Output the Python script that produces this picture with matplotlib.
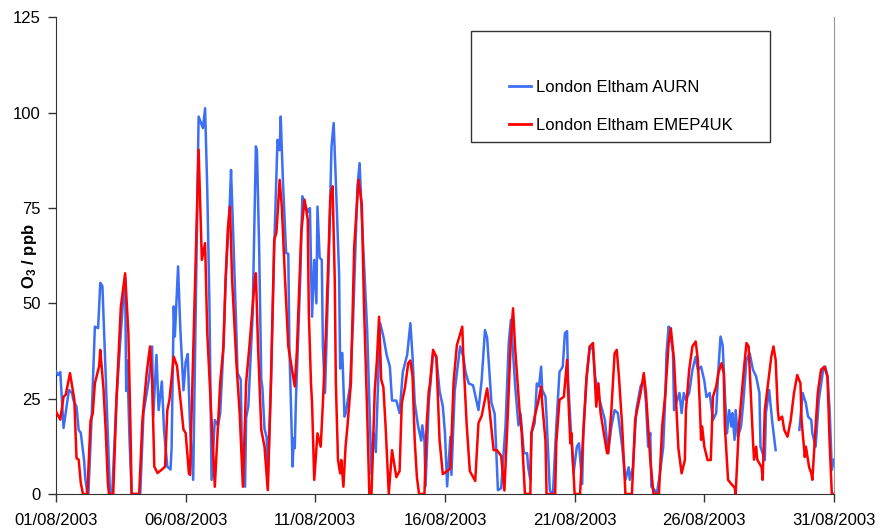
import numpy as np
import pandas as pd
import matplotlib
matplotlib.use("Agg")
import matplotlib.pyplot as plt
import matplotlib.dates as mdates
from matplotlib.patches import Rectangle

plt.rcParams['font.family'] = ['Liberation Sans', 'DejaVu Sans']
plt.rcParams['font.size'] = 12
plt.rcParams['mathtext.fontset'] = 'custom'
plt.rcParams['mathtext.bf'] = 'Liberation Sans:bold'

start = pd.Timestamp('2003-08-01')

# hourly O3 (ppb), key hours since 01/08/2003 00:00
aurn_hours = [0, 2, 4, 7, 12, 15, 16, 19, 21, 23, 26, 27, 29, 30, 33, 36, 39, 41, 43, 46,
              48, 50, 52, 56, 60, 63, 64, 65, 66, 68, 70, 78, 81, 86, 89, 90, 93, 95, 98, 100,
              103, 106, 107, 109, 110, 113, 115, 118, 120, 122, 124, 127, 132, 136, 138, 140, 142, 144, 147, 150,
              152, 155, 157, 161, 162, 164, 167, 168, 171, 172, 175, 176, 178, 179, 182, 185, 186, 188, 190, 191,
              193, 195, 196, 199, 202, 205, 207, 208, 210, 213, 215, 216, 218, 219, 220, 221, 222, 226, 228, 233,
              235, 237, 239, 241, 242, 244, 246, 247, 249, 252, 255, 257, 259, 262, 263, 265, 267, 268, 272, 275,
              279, 281, 283, 288, 292, 294, 296, 297, 300, 303, 306, 309, 311, 315, 318, 321, 325, 328, 330, 332,
              335, 338, 339, 341, 342, 345, 349, 352, 355, 358, 360, 362, 365, 366, 369, 374, 377, 379, 382, 386,
              391, 394, 397, 399, 403, 406, 409, 412, 416, 419, 421, 425, 428, 430, 433, 436, 437, 439, 440, 443,
              445, 447, 449, 450, 453, 454, 457, 459, 460, 463, 466, 469, 471, 473, 474, 476, 479, 482, 484, 487,
              488, 491, 494, 497, 499, 503, 508, 511, 514, 517, 520, 524, 527, 530, 531, 534, 537, 541, 544, 546,
              548, 550, 551, 554, 556, 559, 562, 564, 565, 567, 568, 571, 572, 575, 577, 579, 581, 583, 586, 589,
              592, 594, 597, 600, 602, 605, 608, 611, 613, 615, 617, 619, 621, 623, 625, 626, 628, 629, 631, 634,
              636, 639, 642, 645, 648, 651, 652, 656, 657, 660, 663, 666, 677, 688, 691, 694, 696, 699, 700, 703,
              706, 710, 712, 714, 716, 718, 720]
aurn_o3 = [32.1, 31.2, 32.0, 17.3, 27.3, 26.4, 24.7, 22.9, 16.8, 16.0, 8.9, 4.5, 0.0, 0.0, 20.0, 43.9, 43.5, 55.4, 54.5, 30.8,
           15.0, 0.0, 0.0, 25.0, 42.2, 54.4, 56.5, 27.0, 35.0, 15.0, 0.0, 0.0, 21.2, 30.0, 38.7, 20.3, 36.5, 22.0, 29.5, 16.8,
           7.2, 6.4, 12.0, 49.2, 41.3, 59.7, 43.9, 27.2, 34.6, 36.7, 18.0, 3.7, 99.0, 96.0, 101.2, 80.0, 50.0, 3.7, 19.4, 18.0,
           21.2, 38.7, 56.2, 77.2, 85.0, 68.5, 42.0, 31.7, 30.0, 12.0, 1.9, 20.0, 23.0, 29.0, 47.0, 91.2, 90.0, 65.0, 30.0, 28.0,
           17.0, 15.0, 3.0, 30.0, 64.9, 92.9, 90.2, 99.0, 82.4, 63.2, 63.0, 38.7, 17.0, 7.2, 14.6, 12.0, 24.0, 56.0, 78.1, 74.0,
           75.0, 46.5, 61.4, 50.0, 75.4, 62.0, 61.4, 38.7, 26.5, 56.0, 91.2, 97.3, 82.0, 57.9, 32.9, 37.0, 20.3, 21.0, 28.0, 45.7,
           80.7, 86.8, 73.0, 43.0, 5.2, 16.0, 11.0, 20.0, 44.8, 41.3, 36.5, 33.4, 24.5, 24.5, 21.2, 32.0, 36.5, 44.8, 36.0, 24.0,
           18.0, 14.0, 18.0, 14.0, 2.0, 24.0, 36.9, 36.0, 27.0, 23.0, 16.0, 2.0, 15.0, 5.0, 27.0, 38.7, 36.0, 32.0, 29.0, 28.5,
           22.0, 30.0, 43.0, 41.0, 24.0, 21.0, 1.0, 1.5, 17.7, 39.6, 45.7, 28.2, 18.0, 21.0, 10.7, 10.7, 7.0, 3.7, 15.9, 18.6,
           29.0, 28.2, 33.4, 27.3, 25.5, 20.3, 1.0, 0.0, 0.5, 17.7, 32.0, 33.4, 42.2, 42.7, 29.5, 19.4, 5.4, 12.4, 13.3, 2.6,
           15.9, 30.0, 38.7, 37.8, 30.8, 24.7, 19.4, 10.7, 17.7, 22.0, 21.2, 12.4, 3.7, 7.0, 3.7, 7.0, 22.0, 28.2, 30.0, 24.0,
           12.4, 16.0, 1.9, 1.0, 0.0, 5.4, 12.4, 26.5, 37.0, 43.9, 43.0, 37.0, 22.0, 24.7, 26.5, 21.2, 26.5, 24.7, 26.5, 32.6,
           36.0, 32.6, 33.4, 29.7, 25.4, 26.5, 19.4, 21.2, 32.6, 41.3, 39.0, 26.5, 15.9, 22.0, 17.7, 21.2, 14.2, 22.0, 15.0, 17.7,
           23.8, 35.2, 36.9, 32.6, 30.8, 26.5, 12.4, 8.9, 21.2, 27.3, 18.6, 11.5, np.nan, 16.8, 26.5, 23.8, 20.3, 19.4, 15.9, 12.4,
           24.7, 32.6, 33.4, 30.8, 22.0, 6.3, 9.0]

emep_hours = [0, 4, 7, 9, 13, 17, 19, 21, 23, 25, 29, 32, 34, 36, 40, 41, 44, 46, 48, 49,
              53, 56, 60, 64, 67, 69, 70, 77, 80, 84, 87, 89, 91, 94, 98, 101, 103, 105, 109, 112,
              118, 120, 123, 124, 132, 135, 138, 140, 147, 152, 155, 157, 159, 161, 163, 167, 170, 173, 176, 179,
              184, 185, 187, 190, 193, 196, 199, 202, 204, 207, 209, 212, 215, 218, 221, 223, 227, 230, 233, 234,
              236, 237, 239, 242, 245, 247, 250, 254, 256, 258, 259, 261, 263, 264, 266, 268, 270, 273, 276, 280,
              283, 285, 288, 290, 292, 295, 297, 299, 301, 303, 305, 308, 311, 315, 318, 320, 323, 326, 328, 330,
              332, 334, 336, 341, 343, 345, 346, 349, 352, 355, 358, 362, 365, 368, 371, 376, 377, 380, 383, 388,
              391, 394, 399, 400, 405, 408, 412, 415, 418, 421, 423, 425, 429, 431, 434, 439, 440, 443, 446, 449,
              450, 453, 454, 462, 463, 466, 470, 473, 474, 476, 477, 480, 485, 488, 491, 494, 497, 499, 500, 502,
              504, 507, 510, 511, 514, 517, 519, 521, 524, 527, 533, 536, 541, 544, 546, 550, 553, 558, 561, 564,
              567, 569, 572, 575, 576, 579, 582, 583, 586, 589, 592, 594, 596, 597, 598, 600, 603, 606, 608, 611,
              613, 616, 618, 619, 622, 625, 628, 629, 632, 636, 639, 641, 643, 645, 646, 648, 649, 653, 654, 656,
              659, 662, 664, 666, 668, 669, 672, 674, 677, 680, 683, 686, 689, 690, 693, 694, 697, 699, 700, 703,
              705, 708, 711, 714, 716, 718, 720]
emep_o3 = [21.6, 19.5, 25.5, 26.0, 31.7, 24.7, 9.4, 9.0, 2.8, 0.0, 0.0, 19.3, 21.0, 29.0, 33.6, 37.8, 27.5, 16.8, 3.0, 0.0,
           0.0, 24.7, 49.0, 57.9, 42.3, 16.8, 0.0, 0.0, 19.3, 31.9, 38.7, 29.5, 7.2, 5.5, 6.4, 7.2, 21.9, 24.7, 36.0, 33.6,
           16.9, 16.0, 5.5, 5.0, 90.3, 61.4, 65.8, 42.3, 1.9, 29.3, 38.7, 56.2, 69.3, 75.4, 56.2, 34.3, 21.2, 1.9, 29.3, 38.7,
           56.2, 57.9, 38.7, 16.8, 12.4, 1.0, 29.3, 66.7, 68.5, 82.4, 75.4, 56.2, 38.7, 33.4, 28.2, 37.8, 68.5, 77.2, 72.0, 47.4,
           29.0, 23.8, 3.7, 15.9, 12.4, 23.7, 43.9, 78.1, 80.7, 56.2, 29.3, 8.9, 5.4, 8.9, 1.9, 12.4, 18.6, 29.3, 64.9, 82.4,
           76.0, 50.0, 21.2, 0.0, 0.0, 27.0, 35.0, 46.5, 30.0, 28.0, 18.0, 0.0, 11.5, 4.4, 6.0, 23.7, 28.0, 34.3, 35.0, 30.8,
           14.0, 4.5, 0.0, 0.0, 18.0, 27.0, 28.6, 37.8, 36.0, 14.0, 5.2, 6.0, 6.7, 29.5, 39.0, 43.9, 36.0, 18.6, 6.0, 3.4,
           18.6, 20.5, 27.7, 25.5, 11.5, 11.5, 10.0, 0.9, 20.0, 41.0, 48.7, 38.0, 22.0, 16.0, 0.0, 0.0, 15.9, 20.3, 23.8, 28.2,
           23.8, 14.0, 0.0, 0.0, 13.3, 24.7, 25.5, 35.2, 26.5, 13.3, 16.0, 0.0, 0.0, 15.9, 30.8, 38.7, 39.6, 28.2, 22.9, 29.0,
           21.2, 15.9, 10.7, 10.7, 22.0, 36.9, 37.8, 30.8, 17.7, 0.0, 0.0, 19.4, 26.5, 31.7, 26.5, 8.9, 0.0, 0.0, 17.7, 26.5,
           39.6, 43.5, 35.0, 17.7, 12.0, 5.4, 8.9, 22.0, 32.6, 38.7, 40.0, 35.2, 22.0, 14.2, 17.7, 12.4, 8.9, 8.9, 25.5, 28.2,
           31.7, 34.3, 31.7, 17.7, 3.7, 2.6, 1.7, 0.0, 17.7, 30.8, 39.6, 38.7, 26.5, 14.2, 9.0, 12.4, 9.0, 7.0, 3.7, 22.0,
           29.0, 36.0, 38.7, 35.2, 22.0, 19.4, 20.3, 16.8, 15.0, 19.4, 26.5, 31.2, 29.0, 19.4, 9.7, 12.4, 7.0, 5.4, 3.7, 17.7,
           26.5, 32.6, 33.4, 30.8, 13.3, 0.0, 0.0]

aurn_time = start + pd.to_timedelta(aurn_hours, unit='h')
emep_time = start + pd.to_timedelta(emep_hours, unit='h')

fig = plt.figure(figsize=(8.8, 5.3), dpi=100)
ax = fig.add_axes([0.0636, 0.068, 0.8841, 0.899])

ax.plot(aurn_time, aurn_o3, color='#3d6ff5', lw=1.8, label='London Eltham AURN', zorder=3)
ax.plot(emep_time, emep_o3, color='#ff0000', lw=1.8, label='London Eltham EMEP4UK', zorder=4)

ax.set_xlim(start, pd.Timestamp('2003-08-31'))
ax.set_ylim(0, 125)
ax.set_yticks([0, 25, 50, 75, 100, 125])
ax.xaxis.set_major_locator(mdates.DayLocator(bymonthday=[1, 6, 11, 16, 21, 26, 31]))
ax.xaxis.set_major_formatter(mdates.DateFormatter('%d/%m/%Y'))
ax.tick_params(axis='both', direction='out', length=6, width=1, color='#333333', labelsize=12)
ax.tick_params(axis='x', pad=8)
ax.tick_params(axis='y', pad=5)

ax.spines['top'].set_visible(False)
ax.spines['right'].set_color('#999999')
ax.spines['left'].set_color('#333333')
ax.spines['bottom'].set_color('#333333')

ax.set_ylabel(r'$\mathbf{O_3}$ / ppb', fontweight='bold', fontsize=12)
ax.yaxis.set_label_coords(-0.022, 0.5)

# legend sits inside its own framed box
box = Rectangle((471 / 880, 1 - 142 / 530), 299 / 880, 111 / 530,
                transform=fig.transFigure, facecolor='white',
                edgecolor='#333333', lw=1, zorder=5, clip_on=False)
ax.add_patch(box)
leg = ax.legend(loc='upper left', bbox_to_anchor=(509 / 880, 1 - 80 / 530),
                bbox_transform=fig.transFigure, frameon=False, fontsize=12,
                handlelength=1.3, handletextpad=0.35, labelspacing=1.35,
                borderpad=0, borderaxespad=0)
leg.set_zorder(6)
for line in leg.get_lines():
    line.set_linewidth(2)

fig.savefig('out.png', dpi=100)
